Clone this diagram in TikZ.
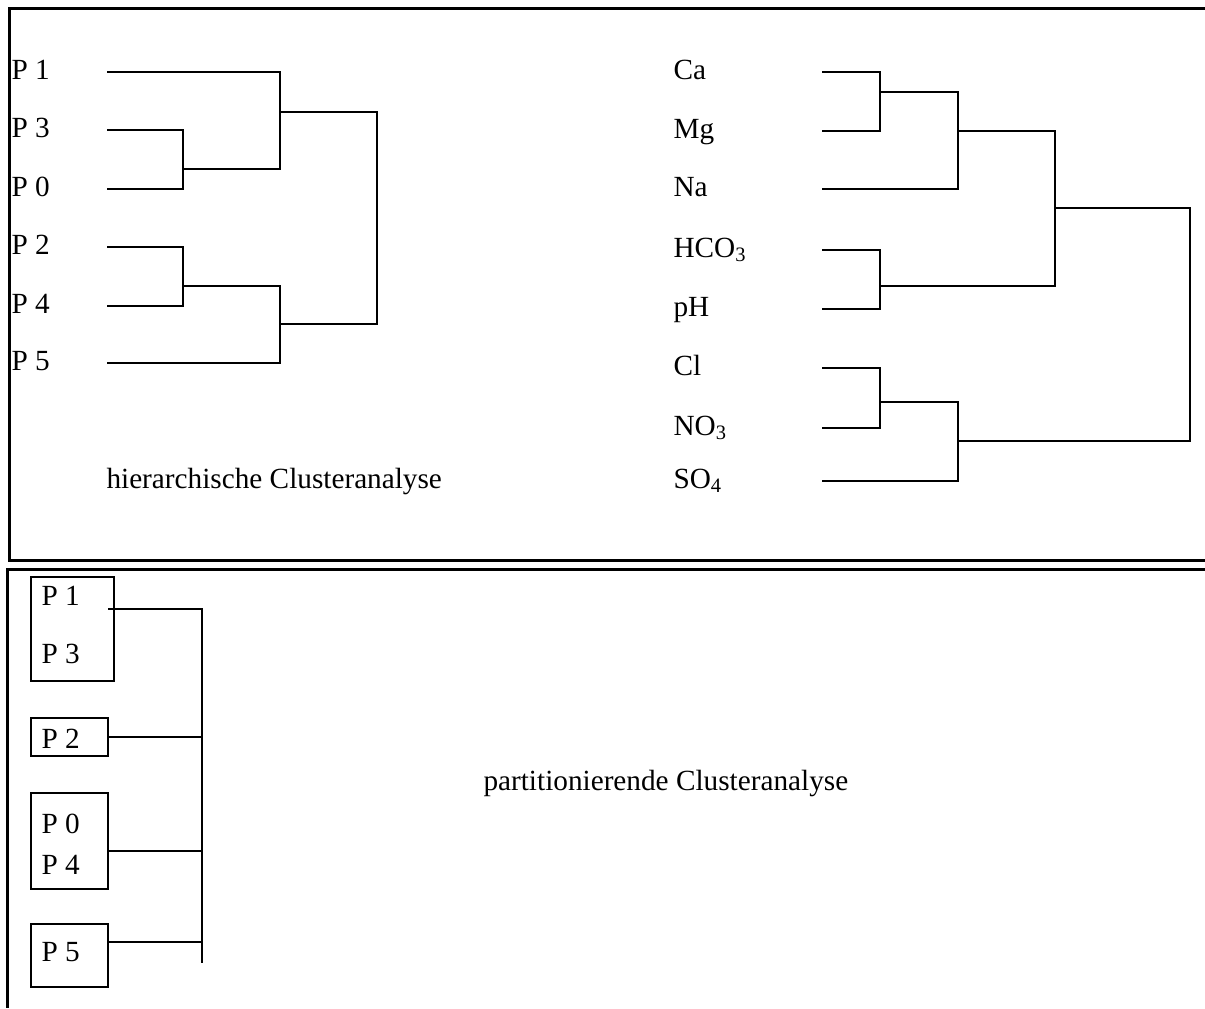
\documentclass[tikz,border=0pt]{standalone}
\usepackage{fontspec}
\setmainfont{Liberation Serif}
\tikzstyle{lbl} = [anchor=base west, inner sep=0pt, font=\fontsize{11.7}{14}\selectfont]
\tikzstyle{dline} = [line width=1pt]
\tikzstyle{frame} = [line width=1.2pt]
\tikzstyle{pbox} = [draw, line width=1.1pt, inner sep=0pt, minimum width=30.8pt]

\begin{document}
\begin{tikzpicture}[x=0.4pt, y=-0.4pt]
\useasboundingbox (0,0) rectangle (1205,1008);
\draw[frame] (1205,8) -| (9,560) -- (1205,560);
\draw[frame] (1205,569) -| (7,1008);

\foreach \n/\t/\y in {p1/P 1/72, p3/P 3/130, p0/P 0/189, p2/P 2/247, p4/P 4/306, p5/P 5/363}{
    \node[lbl] (\n) at (11,\y+7) {\t};
    \coordinate (\n-l) at (107,\y);
}
\coordinate (m30) at (183,169);
\coordinate (m130) at (280,112);
\coordinate (m24) at (183,286);
\coordinate (m245) at (280,324);
\coordinate (rootL) at (377,218);
\draw[dline] (p3-l) -| (m30) |- (p0-l);
\draw[dline] (p1-l) -| (m130) |- (m30);
\draw[dline] (p2-l) -| (m24) |- (p4-l);
\draw[dline] (m24) -| (m245) |- (p5-l);
\draw[dline] (m130) -| (rootL) |- (m245);
\node[lbl] (hier) at (106,488) {hierarchische Clusteranalyse};

\foreach \n/\t/\y in {ca/Ca/72, mg/Mg/131, na/Na/189, hco/HCO\textsubscript{3}/250,
    ph/pH/309, cl/Cl/368, no/NO\textsubscript{3}/428, so/SO\textsubscript{4}/481}{
    \node[lbl] (\n) at (673,\y+7) {\t};
    \coordinate (\n-l) at (822,\y);
}
\coordinate (mCaMg) at (880,92);
\coordinate (mNa) at (958,131);
\coordinate (mHp) at (880,286);
\coordinate (mCat) at (1055,208);
\coordinate (mClN) at (880,402);
\coordinate (mAn) at (958,441);
\coordinate (rootR) at (1190,320);
\draw[dline] (ca-l) -| (mCaMg) |- (mg-l);
\draw[dline] (mCaMg) -| (mNa) |- (na-l);
\draw[dline] (hco-l) -| (mHp) |- (ph-l);
\draw[dline] (mNa) -| (mCat) |- (mHp);
\draw[dline] (cl-l) -| (mClN) |- (no-l);
\draw[dline] (mClN) -| (mAn) |- (so-l);
\draw[dline] (mCat) -| (rootR) |- (mAn);

\node[pbox, minimum width=33.2pt, minimum height=41.6pt] (box1) at (72.5,629) {};
\node[pbox, minimum height=15.2pt] (box2) at (69.5,737) {};
\node[pbox, minimum height=38.4pt] (box3) at (69.5,841) {};
\node[pbox, minimum height=25.2pt] (box4) at (69.5,955.5) {};
\foreach \n/\t/\y in {q1/P 1/605, q3/P 3/663, q2/P 2/748, q0/P 0/833, q4/P 4/874, q5/P 5/961}
    \node[lbl] (\n) at (41,\y) {\t};
\coordinate (bus) at (202,609);
\coordinate (busend) at (202,963);
\coordinate (k1) at (108,609);
\coordinate (k3) at (108,851);
\coordinate (k4) at (108,942);
\draw[dline] (k1) -- (bus) -- (busend);
\draw[dline] (box2.east) -- (box2.east -| bus);
\draw[dline] (k3) -- (k3 -| bus);
\draw[dline] (k4) -- (k4 -| bus);
\node[lbl] (part) at (483,790) {partitionierende Clusteranalyse};
\end{tikzpicture}
\end{document}
